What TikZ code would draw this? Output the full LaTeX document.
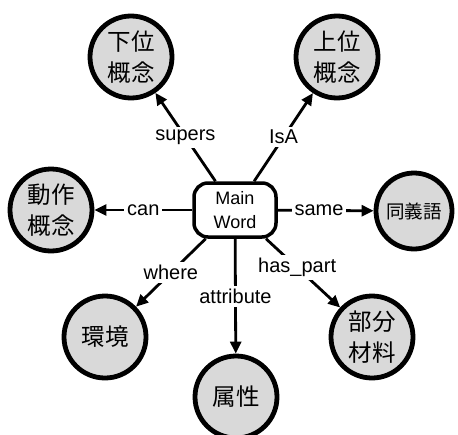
\documentclass[tikz,border=0pt]{standalone}
\usepackage{fontspec}
\setmainfont{Liberation Sans}
\newfontfamily\cjk{Noto Sans CJK JP}
\usetikzlibrary{arrows.meta}
\tikzset{
  concept/.style={circle, draw=black, line width=4.8pt, fill=gray!30, minimum size=82pt, inner sep=0pt, font=\cjk\fontsize{23.5}{31}\selectfont, align=center},
  mainbox/.style={draw=black, line width=3.5pt, rounded corners=14pt, fill=white, minimum width=82pt, minimum height=54pt, inner sep=1pt, font=\fontsize{18}{23.5}\selectfont, align=center},
  rel/.style={line width=2.8pt, -{Triangle[length=12pt,width=11pt]}},
  lbl/.style={fill=white, inner sep=3pt, font=\fontsize{20}{22}\selectfont}
}
\begin{document}
\begin{tikzpicture}[x=1pt,y=-1pt]
\useasboundingbox (0,0) rectangle (458,434);
\node[mainbox] (main) at (235,210) {Main\\Word};
\node[concept] (lower) at (131,57) {下位\\概念};
\node[concept] (upper) at (337,57) {上位\\概念};
\node[concept] (action) at (51,210) {動作\\概念};
\node[concept, minimum size=76pt, font=\cjk\fontsize{18.5}{22}\selectfont] (syn) at (414,211) {同義語};
\node[concept] (env) at (105,337) {環境};
\node[concept] (attr) at (236,397) {属性};
\node[concept] (part) at (372,337) {部分\\材料};
\draw[rel] (main) -- node[lbl] {supers} (lower);
\draw[rel] (main) -- node[lbl] {IsA} (upper);
\draw[rel] (main) -- node[lbl] {can} (action);
\draw[rel] (main) -- node[lbl, pos=0.43] {same} (syn);
\draw[rel] (main) -- node[lbl] {where} (env);
\draw[rel] (main) -- node[lbl] {attribute} (attr);
\draw[rel] (main) -- node[lbl, pos=0.42] {has\_part} (part);
\end{tikzpicture}
\end{document}
